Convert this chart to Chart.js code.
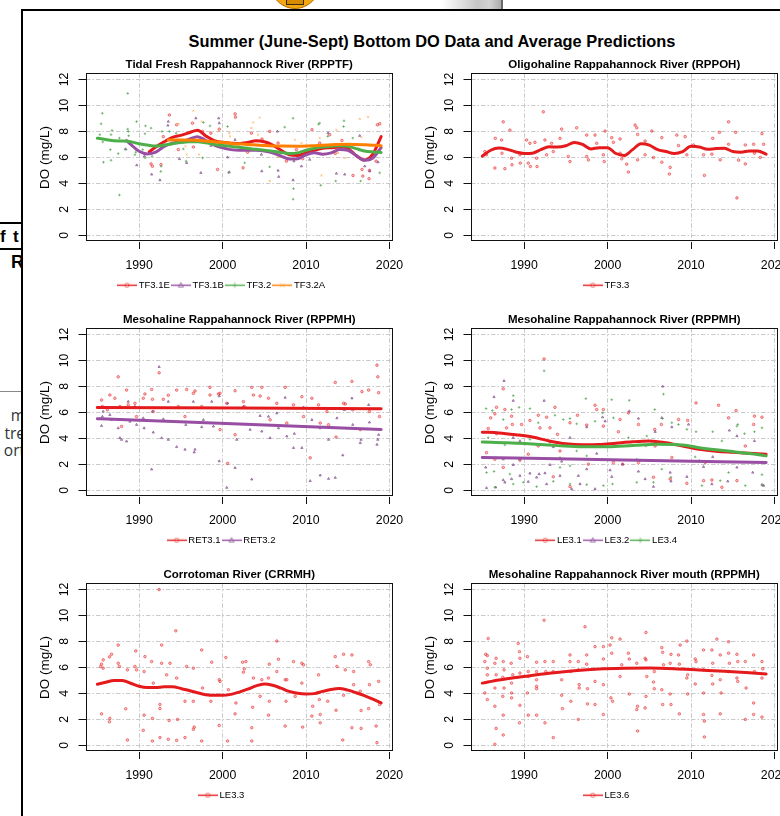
<!DOCTYPE html>
<html><head><meta charset="utf-8">
<script src="https://cdn.jsdelivr.net/npm/chart.js@4.4.1/dist/chart.umd.min.js"></script>
<style>
html,body{margin:0;padding:0;background:#fff;}
body{width:780px;height:816px;overflow:hidden;position:relative;font-family:"Liberation Sans",Arial,sans-serif;}
#frame{position:absolute;left:21px;top:9px;width:900px;height:900px;border-left:2px solid #000;border-top:2px solid #000;}
#mainTitle{position:absolute;left:0;top:31px;width:864px;text-align:center;font-weight:bold;font-size:16.4px;line-height:20px;color:#000;white-space:nowrap;}
canvas{position:absolute;}
#leftClip{position:absolute;left:0;top:0;width:21px;height:816px;overflow:hidden;}
.frag{position:absolute;white-space:nowrap;}
.doc{font-family:"Open Sans","Liberation Sans",sans-serif;font-size:15.5px;line-height:17px;color:#2f3437;right:-4px;text-align:right;}
#icon{position:absolute;left:270px;top:-41px;width:50px;height:50px;border-radius:50%;background:#F3A712;box-sizing:border-box;border:1.5px solid #b46f00;}
#iconIn{position:absolute;left:286px;top:-4px;width:18px;height:9px;background:#d98b00;border:1.5px solid #3a2a10;border-top:none;box-sizing:border-box;}
#photo{position:absolute;left:442px;top:0;width:59px;height:9px;background:linear-gradient(90deg,#fff 0%,#ddd 30%,#b8b8b8 60%,#c8c8c8 80%,#999 100%);border-right:2px solid #444;opacity:0.8;}
</style></head>
<body>
<div id="icon"></div><div id="iconIn"></div><div id="photo"></div>
<div id="leftClip">
  <div class="frag" style="left:0;top:222px;width:21px;height:1.5px;background:#000"></div>
  <div class="frag" style="left:0;top:227px;font-weight:bold;font-size:17px;line-height:19px;color:#000">f</div>
  <div class="frag" style="left:13px;top:227px;font-weight:bold;font-size:17px;line-height:19px;color:#000">t</div>
  <div class="frag" style="left:0;top:248px;width:21px;height:2px;background:#000"></div>
  <div class="frag" style="left:11px;top:252px;font-weight:bold;font-size:18px;line-height:20px;color:#000">R</div>
  <div class="frag" style="left:0;top:391px;width:21px;height:1px;background:#888"></div>
  <div class="frag doc" style="top:407px">m</div>
  <div class="frag doc" style="top:425px">tre</div>
  <div class="frag doc" style="top:442px">ort</div>
</div>
<div id="frame"></div>
<div id="mainTitle">Summer (June-Sept) Bottom DO Data and Average Predictions</div>
<canvas id="p1"></canvas><canvas id="p2"></canvas>
<canvas id="p3"></canvas><canvas id="p4"></canvas>
<canvas id="p5"></canvas><canvas id="p6"></canvas>
<script>
// ---------------- DATA ----------------
const xTickYears = [1990, 2000, 2010, 2020];
const yTickValues = [0, 2, 4, 6, 8, 10, 12];
const xRange = [1983.64, 2020.36];
const yRange = [-0.48, 12.48];
const legendCenterYear = 2000;

const panelTitles = [
  'Tidal Fresh Rappahannock River (RPPTF)',
  'Oligohaline Rappahannock River (RPPOH)',
  'Mesohaline Rappahannock River (RPPMH)',
  'Mesohaline Rappahannock River (RPPMH)',
  'Corrotoman River (CRRMH)',
  'Mesohaline Rappahannock River mouth (RPPMH)'
];

// Panel 1
const tf31eLineYears = [1991.2,1992,1993,1994,1995,1996,1997,1998,1999,2000,2001,2002,2003,2004,2005,2006,2007,2008,2009,2010,2011,2012,2013,2014,2015,2016,2017,2018,2019];
const tf31eLineDO    = [6.42,6.8,7.2,7.55,7.7,7.9,8.1,7.65,7.3,7.16,7.1,7.06,7.15,7.28,7.2,6.95,6.55,6.2,6.15,6.35,6.55,6.7,6.75,6.8,6.7,6.15,5.8,6.25,7.6];
const tf31bLineYears = [1988.5,1989,1990,1991,1992,1993,1994,1995,1996,1997,1998,1999,2000,2001,2002,2003,2004,2005,2006,2007,2008,2009,2010,2011,2012,2013,2014,2015,2016,2017,2018,2019];
const tf31bLineDO    = [7.3,7.0,6.47,6.27,6.4,6.85,7.1,7.2,7.4,7.6,7.3,6.95,6.73,6.6,6.55,6.55,6.55,6.5,6.35,6.1,5.88,5.9,6.2,6.35,6.25,6.35,6.6,6.55,6.15,5.78,5.95,6.75];
const tf32LineYears  = [1985,1986,1987,1988,1989,1990,1991,1992,1993,1994,1995,1996,1997,1998,1999,2000,2001,2002,2003,2004,2005,2006,2007,2008,2009,2010,2011,2012,2013,2014,2015,2016,2017,2018,2019];
const tf32LineDO     = [7.48,7.38,7.28,7.26,7.2,7.05,6.95,6.87,6.95,7.05,7.15,7.2,7.2,7.12,7.0,6.92,6.85,6.78,6.7,6.62,6.56,6.48,6.38,6.3,6.35,6.55,6.7,6.8,6.86,6.9,6.85,6.68,6.5,6.42,6.38];
const tf32aLineYears = [1993.5,1995,1997,1999,2001,2003,2005,2007,2009,2011,2013,2015,2017,2019];
const tf32aLineDO    = [7.35,7.35,7.32,7.2,7.08,7.0,6.92,6.87,6.86,6.9,6.97,7.02,6.98,6.9];
const tf31ePoints = [[1991.43,5.5],[1991.6,5.32],[1992.63,5.45],[1993.63,9.27],[1994.5,8.51],[1994.7,6.6],[1996.4,8.64],[1996.5,6.8],[1997.6,8.0],[1998.6,7.87],[1999.4,5.07],[1999.6,8.18],[2001.5,9.35],[2001.55,9.1],[2000.4,6.86],[2002.46,5.2],[2003.46,7.87],[2004.73,7.41],[2005.65,8.0],[2006.65,7.11],[2007.65,5.71],[2008.85,6.6],[2010.72,8.13],[2011.64,7.11],[2012.84,7.75],[2015.63,4.61],[2016.71,5.07],[2016.8,4.56],[2017.55,4.36],[2018.55,8.51],[2018.83,8.59],[2018.4,5.71],[1992.9,7.6],[1995.3,7.2],[2003.0,6.4],[2009.6,5.9],[2013.5,6.3],[2014.3,7.3],[2017.6,5.0]];
const tf31bPoints = [[1988.36,6.65],[1989.72,5.4],[1990.64,6.09],[1991.5,4.69],[1992.5,4.25],[1993.5,8.76],[1993.45,8.46],[1994.63,7.24],[1994.83,5.88],[1995.7,5.58],[1996.8,9.02],[1997.4,4.81],[1998.6,6.9],[1999.54,9.02],[1999.6,8.64],[2000.6,6.01],[2000.8,4.87],[2001.5,7.36],[2004.65,6.22],[2004.7,4.94],[2006.57,8.0],[2006.65,4.99],[2006.73,4.51],[2008.45,4.25],[2008.55,5.71],[2009.45,5.32],[2010.44,5.83],[2012.64,7.87],[2013.64,4.76],[2014.63,4.69],[2015.63,6.34],[2016.43,7.67],[2017.03,5.32],[2017.63,4.94],[2018.63,5.63]];
const tf32Points = [[1988.64,10.93],[1985.6,9.4],[1985.45,8.59],[1985.3,7.75],[1985.65,7.19],[1985.73,5.63],[1986.76,8.08],[1986.64,7.75],[1986.56,6.6],[1986.64,5.78],[1987.5,6.29],[1987.64,3.1],[1987.64,7.49],[1988.44,6.6],[1988.64,8.18],[1988.7,8.0],[1988.76,7.67],[1989.64,6.6],[1989.7,8.76],[1989.6,6.4],[1989.5,6.2],[1990.76,8.43],[1990.7,7.82],[1990.44,6.6],[1990.72,5.96],[1991.43,8.26],[1991.55,6.09],[1992.63,5.32],[1992.6,4.92],[1992.75,8.0],[1993.63,8.0],[1993.7,6.98],[1994.43,7.87],[1995.3,6.65],[1995.63,5.71],[1997.7,8.69],[1998.5,8.43],[1997.6,5.96],[2000.6,8.38],[2000.73,4.81],[1999.6,7.11],[2008.45,9.02],[2008.5,3.59],[2008.45,2.78],[2007.45,8.33],[2011.64,8.64],[2011.5,8.56],[2012.6,7.62],[2013.56,4.18],[2011.76,3.85],[2014.55,8.82],[2014.5,8.38],[2015.6,7.49],[2016.55,4.18],[2018.83,4.81],[2005.65,5.27],[2002.66,5.58],[2002.3,6.6]];
const tf32aPoints = [[1994.75,8.59],[1995.55,6.85],[1996.5,9.6],[1997.5,8.76],[1997.8,7.62],[1999.54,8.0],[2000.8,7.87],[2000.9,7.62],[1995.7,6.22],[1997.2,6.22],[2003.66,8.69],[2004.45,9.07],[2003.46,8.26],[2004.26,7.75],[2005.45,6.98],[2005.65,4.18],[2006.65,6.04],[2008.65,7.36],[2009.45,7.11],[2011.64,7.49],[2011.84,4.61],[2013.64,8.13],[2014.63,5.96],[2016.43,8.97],[2017.43,9.1],[2016.63,7.54],[2013.84,6.34]];

// Panel 2
const tf33LineYears = [1985,1986,1987,1988,1989,1990,1991,1992,1993,1994,1995,1996,1997,1998,1999,2000,2001,2002,2003,2004,2005,2006,2007,2008,2009,2010,2011,2012,2013,2014,2015,2016,2017,2018,2019];
const tf33LineDO    = [6.1,6.55,6.72,6.62,6.42,6.3,6.32,6.6,6.82,6.8,6.9,7.15,7.0,6.65,6.75,6.75,6.3,6.15,6.6,7.05,6.95,6.6,6.45,6.3,6.45,6.85,6.8,6.62,6.68,6.7,6.45,6.4,6.5,6.5,6.25];
const tf33Points = [[1992.3,9.51],[1987.5,8.74],[1988.3,8.1],[1988.5,5.94],[1988.55,5.43],[1987.7,5.13],[1986.5,5.18],[1986.55,7.47],[1985.3,6.45],[1985.5,6.2],[1987.3,7.34],[1987.35,6.32],[1989.5,6.2],[1989.55,5.56],[1990.3,7.34],[1990.7,7.09],[1990.5,5.56],[1990.75,5.3],[1991.3,7.16],[1991.5,5.94],[1991.55,5.3],[1992.5,7.34],[1992.7,6.2],[1993.3,7.09],[1993.5,6.45],[1994.3,7.47],[1994.5,8.18],[1995.3,6.07],[1995.5,5.68],[1996.3,8.28],[1997.5,7.72],[1997.5,6.07],[1997.7,5.81],[1998.5,7.72],[1998.7,7.09],[1999.7,8.03],[1999.5,6.2],[1999.6,5.68],[2000.5,7.52],[2000.7,7.16],[2001.5,7.42],[2001.5,6.32],[2001.7,5.89],[2002.3,5.48],[2002.5,4.87],[2003.3,8.49],[2003.5,8.28],[2003.6,7.77],[2003.6,5.81],[2004.5,7.26],[2004.5,6.2],[2005.3,8.03],[2005.5,5.99],[2006.5,7.52],[2006.5,5.63],[2007.4,4.72],[2007.5,5.23],[2008.3,7.72],[2008.5,6.91],[2009.3,7.6],[2009.5,6.2],[2010.3,6.96],[2011.5,6.2],[2011.6,4.61],[2012.6,7.47],[2012.5,6.25],[2013.4,7.93],[2013.5,5.81],[2014.5,8.74],[2014.5,7.01],[2015.35,7.93],[2015.5,2.88],[2015.7,5.79],[2016.5,6.96],[2016.5,5.5],[2017.5,7.01],[2017.6,6.32],[2018.5,7.83],[2018.7,7.01],[2018.3,6.0]];

// Panel 3
const ret31LineYears = [1985, 2002, 2019];
const ret31LineDO    = [6.38, 6.33, 6.28];
const ret32LineYears = [1985, 2002, 2019];
const ret32LineDO    = [5.52, 5.1, 4.68];
const ret31Points = [[1985.5,6.96],[1985.6,6.45],[1986.2,6.2],[1986.5,7.34],[1987.1,7.09],[1987.5,8.74],[1987.7,6.45],[1987.9,4.92],[1988.5,7.72],[1988.7,6.58],[1989.5,6.7],[1989.7,5.68],[1990.5,7.09],[1990.7,7.42],[1991.5,7.77],[1991.6,7.01],[1991.7,6.07],[1992.4,9.05],[1992.9,7.01],[1993.5,7.32],[1994.5,7.72],[1994.7,6.45],[1995.7,7.77],[1995.5,5.68],[1996.5,7.47],[1996.7,7.65],[1997.5,6.45],[1998.5,7.93],[1998.5,7.34],[1999.5,7.42],[1999.7,7.47],[1999.7,4.67],[2000.5,6.7],[2000.6,2.07],[2001.5,7.67],[2001.5,4.28],[2002.5,6.83],[2002.6,6.45],[2003.5,7.93],[2003.7,7.34],[2004.5,7.26],[2004.7,7.93],[2005.5,7.09],[2005.7,5.43],[2006.5,6.7],[2007.5,7.93],[2007.7,5.18],[2008.5,6.58],[2009.5,7.21],[2009.7,5.68],[2010.5,2.5],[2010.7,7.09],[2011.5,6.58],[2011.7,5.18],[2012.5,6.07],[2012.7,5.05],[2013.5,8.31],[2013.6,4.1],[2014.5,6.7],[2014.7,6.65],[2015.5,8.39],[2015.6,6.2],[2016.5,4.67],[2016.7,7.6],[2017.5,7.72],[2017.6,6.07],[2018.5,9.64],[2018.6,8.74],[2018.7,7.52],[2018.8,5.68]];
const ret32Points = [[1985.5,4.97],[1985.6,5.68],[1985.7,6.07],[1986.5,5.81],[1986.7,5.43],[1987.5,4.79],[1987.7,4.03],[1987.9,3.9],[1988.5,3.77],[1988.7,6.83],[1988.9,5.3],[1989.5,6.45],[1989.7,5.05],[1990.5,5.56],[1990.6,4.79],[1991.5,1.61],[1991.6,6.07],[1991.7,4.46],[1992.4,9.51],[1992.7,4.03],[1992.9,5.48],[1993.5,6.83],[1993.5,3.9],[1994.5,3.34],[1995.5,3.14],[1995.6,5.05],[1996.5,6.83],[1996.6,2.93],[1996.7,3.14],[1997.5,4.87],[1997.7,5.43],[1998.7,6.83],[1998.9,4.92],[1999.6,2.25],[1999.6,7.26],[2000.5,0.2],[2000.6,6.7],[2001.5,1.73],[2001.7,3.9],[2002.5,6.45],[2003.3,4.67],[2003.5,0.84],[2004.5,5.74],[2004.7,4.54],[2005.5,5.68],[2005.7,4.03],[2006.5,5.94],[2006.7,4.79],[2007.5,7.14],[2007.7,4.16],[2008.5,3.27],[2008.6,4.36],[2009.5,3.27],[2009.7,6.4],[2010.5,0.72],[2010.7,5.43],[2011.7,1.15],[2011.7,4.79],[2012.7,0.89],[2012.7,3.9],[2013.5,0.97],[2013.7,5.56],[2014.4,2.7],[2014.6,6.2],[2015.5,7.09],[2015.6,5.05],[2016.5,3.65],[2016.6,3.9],[2017.5,6.58],[2017.6,5.23],[2018.5,3.52],[2018.6,3.9],[2018.7,4.28]];

// Panel 4
const le31LineYears = [1985,1987,1989,1991,1993,1995,1997,1999,2001,2003,2005,2007,2009,2011,2013,2015,2017,2019];
const le31LineDO    = [4.48,4.42,4.28,4.1,3.8,3.58,3.5,3.52,3.63,3.74,3.8,3.66,3.4,3.15,3.0,2.92,2.85,2.78];
const le32LineYears = [1985, 2002, 2019];
const le32LineDO    = [2.52, 2.34, 2.14];
const le34LineYears = [1985,1988,1991,1994,1997,2000,2003,2006,2009,2011,2013,2015,2017,2019];
const le34LineDO    = [3.72,3.66,3.56,3.44,3.35,3.36,3.45,3.54,3.48,3.28,3.12,2.98,2.83,2.65];
const le31Points = [[1992.4,10.12],[1987.5,7.82],[1986.7,6.39],[1986.0,5.58],[1986.5,5.89],[1987.7,6.22],[1988.5,5.71],[1985.7,4.76],[1986.7,4.36],[1987.9,4.81],[1988.6,5.07],[1989.7,5.07],[1990.7,5.38],[1991.7,5.78],[1992.7,5.63],[1993.7,6.39],[1991.9,4.81],[1993.1,4.81],[1985.5,2.9],[1986.5,2.39],[1987.5,1.76],[1989.5,2.32],[1990.5,2.78],[1991.7,3.41],[1994.0,4.31],[1994.3,3.03],[1995.5,5.2],[1996.4,5.78],[1997.5,5.02],[1998.5,6.55],[1998.7,6.22],[1999.5,6.22],[1997.7,2.01],[1999.5,4.94],[2001.3,4.51],[2001.5,5.45],[2000.7,2.14],[1995.5,0.28],[1993.5,1.04],[2002.5,5.96],[2003.7,5.07],[2005.65,4.69],[2006.45,5.07],[2005.7,3.41],[2008.5,5.45],[2009.6,5.38],[2010.6,6.73],[2013.3,6.55],[2014.5,5.58],[2015.4,6.14],[2017.5,5.07],[2017.6,5.71],[2018.5,5.63],[2001.8,2.01],[2003.7,2.14],[2005.5,1.0],[2007.5,0.87],[2009.5,0.53],[2011.5,0.74],[2012.5,0.79],[2013.7,0.23],[2015.5,0.74],[2007.7,2.52],[2011.7,2.14],[2016.5,3.41]];
const le32Points = [[1987.6,8.43],[1988.7,6.9],[1986.4,7.19],[1992.4,6.9],[1991.5,0.99],[1992.7,0.48],[1987.5,0.79],[1987.7,0.61],[1985.5,0.18],[1986.6,0.23],[1988.5,0.87],[1989.5,1.12],[1990.7,1.3],[1990.5,0.66],[1991.8,1.25],[1992.5,1.32],[1985.4,1.76],[1987.5,2.39],[1988.7,1.96],[1989.5,2.39],[1993.1,1.96],[1994.3,1.12],[1994.5,2.22],[1995.7,0.1],[1996.5,1.12],[1996.7,0.48],[1997.5,1.63],[1998.5,0.1],[1998.7,2.83],[1999.4,5.63],[1999.7,5.32],[2000.3,1.55],[2000.5,1.04],[1997.5,4.87],[1995.5,4.05],[1993.5,3.34],[1989.5,3.8],[1988.7,4.05],[2006.6,8.0],[2006.5,5.58],[2002.6,6.1],[2003.7,5.53],[2005.7,4.51],[2007.7,4.87],[2009.7,5.07],[2011.0,2.27],[2012.6,2.57],[2014.6,4.61],[2015.5,4.18],[2017.6,3.8],[2018.5,2.78],[2001.8,2.0],[2003.7,1.45],[2004.5,0.87],[2005.5,0.28],[2007.5,1.37],[2007.6,0.69],[2009.5,1.04],[2011.5,1.81],[2012.5,0.48],[2014.4,0.69],[2015.5,1.76],[2017.4,1.37],[2018.5,0.43],[2018.7,0.36]];
const le34Points = [[1992.4,9.2],[1988.7,7.29],[1985.45,6.29],[1986.2,6.14],[1987.5,5.45],[1988.5,6.22],[1989.4,6.39],[1990.7,6.29],[1991.7,5.2],[1993.7,5.78],[1994.7,5.45],[1995.5,5.53],[1996.3,5.12],[1997.4,7.06],[1998.5,5.32],[1999.4,5.96],[2000.5,6.98],[2000.7,5.58],[1985.7,4.05],[1987.7,3.49],[1988.7,4.31],[1990.7,3.92],[1991.5,3.54],[1993.1,3.67],[1994.3,2.52],[1995.5,1.88],[1996.3,3.03],[1997.5,2.65],[1986.4,1.45],[1985.5,1.37],[1988.3,1.25],[1988.7,0.48],[1986.5,0.23],[1989.9,0.61],[1991.5,0.28],[1993.5,0.69],[1994.3,1.76],[1995.5,0.48],[1997.5,0.43],[1999.5,0.36],[2000.6,0.48],[2002.6,6.93],[2005.65,6.22],[2006.6,5.53],[2006.7,7.41],[2007.7,5.2],[2008.5,5.07],[2009.5,4.69],[2010.6,4.51],[2012.6,4.51],[2013.7,3.8],[2015.5,4.94],[2015.6,5.07],[2016.4,4.36],[2017.6,4.51],[2018.5,4.81],[2004.7,4.18],[2004.6,3.41],[2002.5,4.05],[2003.5,2.39],[2003.5,0.61],[2005.5,0.61],[2006.5,1.63],[2007.6,1.0],[2010.5,2.57],[2011.3,0.36],[2013.5,0.74],[2014.5,1.37],[2016.5,0.36],[2018.5,1.2],[2018.6,0.36]];

// Panel 5
const le33LineYears = [1985,1986,1987,1988,1989,1990,1991,1992,1993,1994,1995,1996,1997,1998,1999,2000,2001,2002,2003,2004,2005,2006,2007,2008,2009,2010,2011,2012,2013,2014,2015,2016,2017,2018,2019];
const le33LineDO    = [4.7,4.85,5.0,5.0,4.78,4.55,4.45,4.45,4.5,4.5,4.38,4.22,4.05,3.9,3.85,3.85,3.92,4.1,4.32,4.58,4.72,4.62,4.4,4.15,4.0,3.95,3.98,4.15,4.3,4.37,4.25,4.05,3.82,3.55,3.26];
const le33Points = [[1992.4,12.0],[1994.4,8.82],[1992.7,7.72],[1987.5,7.72],[1986.7,7.01],[1986.45,6.81],[1985.7,6.58],[1985.5,6.25],[1985.4,6.07],[1985.7,5.94],[1987.5,6.32],[1987.65,6.07],[1988.6,5.81],[1989.6,7.27],[1989.5,6.07],[1989.7,5.81],[1990.7,6.83],[1990.6,5.68],[1991.5,6.45],[1991.7,4.79],[1992.7,6.32],[1993.3,5.43],[1993.7,6.32],[1994.5,5.18],[1995.7,6.07],[1996.5,5.94],[1997.5,7.34],[1997.6,4.41],[1998.7,6.4],[1999.6,5.05],[1999.7,4.92],[2000.4,6.76],[2000.7,4.28],[2002.4,6.4],[2002.6,5.89],[2002.5,5.63],[2002.8,6.45],[2003.7,5.18],[2004.7,5.05],[2005.5,5.18],[2005.6,6.25],[2006.5,8.03],[2006.7,6.63],[2006.5,5.68],[2007.5,5.05],[2007.7,5.05],[2008.5,6.45],[2009.5,6.32],[2009.7,6.2],[2009.5,4.79],[2011.5,5.43],[2013.5,6.83],[2013.7,6.07],[2014.5,7.01],[2014.7,5.81],[2015.5,6.96],[2015.7,5.68],[2017.5,6.45],[2017.7,6.2],[2018.7,4.92],[2015.7,4.67],[2017.6,4.67],[2016.5,4.16],[1985.5,2.42],[1986.5,2.07],[1986.45,1.81],[1988.4,2.81],[1988.6,0.41],[1990.6,2.32],[1990.5,1.15],[1991.6,2.07],[1991.6,0.33],[1992.5,3.14],[1992.5,2.83],[1992.5,0.59],[1993.6,1.91],[1993.5,0.46],[1994.6,1.99],[1994.5,0.38],[1995.5,3.39],[1995.5,0.59],[1996.5,3.39],[1996.6,1.4],[1996.5,1.23],[1997.5,0.33],[1998.6,3.39],[1999.6,1.53],[2000.6,0.33],[2001.5,2.42],[2001.6,3.26],[2003.5,1.35],[2003.5,0.33],[2003.6,2.93],[2004.5,3.77],[2005.5,2.32],[2005.6,3.39],[2007.5,1.48],[2007.6,3.39],[2008.7,3.77],[2009.6,1.4],[2010.7,2.25],[2010.8,3.01],[2011.6,3.52],[2011.7,2.37],[2011.7,1.73],[2012.6,3.39],[2013.6,2.7],[2014.4,0.41],[2014.5,3.85],[2015.5,1.35],[2016.6,1.3],[2016.6,2.68],[2017.5,2.83],[2018.4,1.48],[2018.5,0.2],[2018.8,3.14]];

// Panel 6
const le36LineYears = [1985,1987,1990,1993,1996,1999,2002,2005,2008,2011,2014,2017,2019];
const le36LineDO    = [4.79,5.03,5.3,5.55,5.74,5.87,5.93,5.95,5.9,5.8,5.7,5.58,5.5];
const le36Points = [[1992.4,9.63],[1997.3,9.13],[2004.6,8.69],[2000.5,8.28],[2001.5,8.18],[1985.7,8.23],[1985.4,7.01],[1985.6,6.91],[1985.3,6.45],[1985.6,5.94],[1985.6,5.43],[1985.3,4.03],[1985.6,3.52],[1986.65,6.7],[1986.5,6.32],[1986.65,5.43],[1986.5,4.41],[1986.5,3.01],[1986.65,1.3],[1986.5,0.08],[1987.5,6.45],[1987.6,5.81],[1987.45,5.23],[1987.6,4.41],[1987.45,3.77],[1987.5,2.32],[1987.5,0.79],[1988.45,6.32],[1988.65,5.43],[1988.5,4.79],[1988.5,4.03],[1988.5,3.65],[1989.3,7.85],[1989.45,7.21],[1989.5,6.7],[1989.5,5.56],[1989.5,3.08],[1989.45,1.73],[1990.4,6.83],[1990.5,5.68],[1990.5,5.3],[1990.4,4.03],[1990.5,2.32],[1991.5,6.4],[1991.5,5.68],[1991.5,5.05],[1991.5,4.54],[1991.5,4.36],[1991.5,2.32],[1992.5,6.45],[1992.6,5.68],[1992.5,1.73],[1993.5,5.68],[1993.5,6.45],[1993.5,0.59],[1994.5,3.85],[1994.5,5.05],[1994.6,2.83],[1995.5,6.96],[1995.5,6.45],[1995.6,5.68],[1995.6,3.39],[1996.5,6.45],[1996.5,5.81],[1996.6,4.67],[1996.6,4.41],[1996.5,1.99],[1997.5,6.96],[1997.5,6.25],[1997.6,3.19],[1997.6,4.36],[1998.5,7.6],[1998.5,4.92],[1998.5,3.14],[1999.5,7.6],[1999.5,6.65],[1999.5,4.67],[1999.5,2.37],[2000.3,7.72],[2000.5,7.09],[2000.4,3.65],[2000.6,3.39],[2001.5,5.3],[2001.7,6.2],[2002.5,7.09],[2002.6,6.65],[2002.6,3.95],[2003.5,6.32],[2003.6,3.01],[2003.5,2.75],[2003.6,1.1],[2004.5,6.7],[2004.6,6.58],[2004.6,3.77],[2004.5,2.88],[2004.7,5.3],[2005.6,5.68],[2005.5,4.87],[2005.6,4.36],[2006.5,7.52],[2006.6,7.16],[2006.7,6.2],[2006.5,4.28],[2006.6,3.14],[2007.6,7.01],[2007.5,6.32],[2007.5,3.95],[2007.6,3.14],[2008.5,6.96],[2008.6,6.25],[2008.7,7.72],[2008.6,2.42],[2009.5,8.03],[2009.6,5.43],[2009.5,5.18],[2009.6,3.95],[2010.5,6.65],[2010.6,6.45],[2010.5,4.72],[2011.5,7.34],[2011.5,5.81],[2011.5,4.03],[2011.5,2.37],[2011.6,1.86],[2011.6,0.64],[2012.5,7.34],[2012.6,6.32],[2012.5,5.38],[2012.6,4.72],[2013.1,8.18],[2013.5,5.05],[2013.6,4.03],[2013.5,2.42],[2013.5,6.96],[2014.5,7.98],[2014.5,7.09],[2014.6,6.32],[2014.5,5.68],[2015.5,7.01],[2015.6,6.45],[2015.5,5.18],[2015.6,4.92],[2016.5,6.45],[2016.6,4.41],[2016.5,1.99],[2017.5,6.96],[2017.6,5.68],[2017.5,3.26],[2017.5,2.37],[2018.5,6.45],[2018.6,5.89],[2018.5,5.18],[2018.5,2.17]];

// ---------------- STYLE / LAYOUT ----------------
const FONT = '"Liberation Sans", Arial, Helvetica, sans-serif';
const COL = {
  red:    {line:'#E41A1C', pt:'rgba(232,40,42,0.55)', fill:'rgba(232,40,42,0.3)'},
  purple: {line:'#984EA3', pt:'rgba(125,70,135,0.65)', fill:'rgba(125,70,135,0.3)'},
  green:  {line:'#4DAF4A', pt:'rgba(70,160,70,0.65)', fill:'rgba(70,160,70,0.3)'},
  orange: {line:'#FF7F00', pt:'rgba(255,150,40,0.6)', fill:'rgba(255,150,40,0.3)'}
};
const SHAPE_STYLE = {circle:'circle', triangle:'triangle', plus:'cross', x:'crossRot'};
const GRID = '#c9c9c9';

const panels = [
  {id:'p1', left:24,  top:52,  width:390, padR:21.5, title:panelTitles[0], series:[
    {name:'TF3.1E', c:COL.red,    shape:'circle',   lx:tf31eLineYears, ly:tf31eLineDO, pts:tf31ePoints},
    {name:'TF3.1B', c:COL.purple, shape:'triangle', lx:tf31bLineYears, ly:tf31bLineDO, pts:tf31bPoints},
    {name:'TF3.2',  c:COL.green,  shape:'plus',     lx:tf32LineYears,  ly:tf32LineDO,  pts:tf32Points},
    {name:'TF3.2A', c:COL.orange, shape:'x',        lx:tf32aLineYears, ly:tf32aLineDO, pts:tf32aPoints}]},
  {id:'p2', left:409, top:52,  width:371, padR:2.5, title:panelTitles[1], series:[
    {name:'TF3.3', c:COL.red, shape:'circle', lx:tf33LineYears, ly:tf33LineDO, pts:tf33Points}]},
  {id:'p3', left:24,  top:307, width:390, padR:21.5, title:panelTitles[2], series:[
    {name:'RET3.1', c:COL.red,    shape:'circle',   lx:ret31LineYears, ly:ret31LineDO, pts:ret31Points},
    {name:'RET3.2', c:COL.purple, shape:'triangle', lx:ret32LineYears, ly:ret32LineDO, pts:ret32Points}]},
  {id:'p4', left:409, top:307, width:371, padR:2.5, title:panelTitles[3], series:[
    {name:'LE3.1', c:COL.red,    shape:'circle',   lx:le31LineYears, ly:le31LineDO, pts:le31Points},
    {name:'LE3.2', c:COL.purple, shape:'triangle', lx:le32LineYears, ly:le32LineDO, pts:le32Points},
    {name:'LE3.4', c:COL.green,  shape:'plus',     lx:le34LineYears, ly:le34LineDO, pts:le34Points}]},
  {id:'p5', left:24,  top:562, width:390, padR:21.5, title:panelTitles[4], series:[
    {name:'LE3.3', c:COL.red, shape:'circle', lx:le33LineYears, ly:le33LineDO, pts:le33Points}]},
  {id:'p6', left:409, top:562, width:371, padR:2.5, title:panelTitles[5], series:[
    {name:'LE3.6', c:COL.red, shape:'circle', lx:le36LineYears, ly:le36LineDO, pts:le36Points}]}
];
const PANEL_H = 248;

function markerImg(color, ptColor, shape) {
  const c = document.createElement('canvas'); c.width = 20; c.height = 9;
  const g = c.getContext('2d');
  g.strokeStyle = color; g.lineWidth = 1.4;
  g.beginPath(); g.moveTo(0, 4.5); g.lineTo(20, 4.5); g.stroke();
  g.strokeStyle = ptColor; g.lineWidth = 1;
  const cx = 10, cy = 4.5, r = 2.2;
  g.beginPath();
  if (shape === 'circle') g.arc(cx, cy, r, 0, Math.PI * 2);
  else if (shape === 'triangle') { g.moveTo(cx, cy - r * 1.25); g.lineTo(cx + r * 1.15, cy + r * 0.85); g.lineTo(cx - r * 1.15, cy + r * 0.85); g.closePath(); }
  else if (shape === 'plus') { g.moveTo(cx - r - 0.6, cy); g.lineTo(cx + r + 0.6, cy); g.moveTo(cx, cy - r - 0.6); g.lineTo(cx, cy + r + 0.6); }
  else { g.moveTo(cx - r, cy - r); g.lineTo(cx + r, cy + r); g.moveTo(cx + r, cy - r); g.lineTo(cx - r, cy + r); }
  g.stroke();
  return c;
}

const rBox = { id:'rBox', afterDraw(chart) {
  const a = chart.chartArea, g = chart.ctx;
  g.save(); g.strokeStyle = '#111'; g.lineWidth = 1;
  g.strokeRect(Math.round(a.left) + 0.5, Math.round(a.top) + 0.5, Math.round(a.right - a.left) - 1, Math.round(a.bottom - a.top) - 1);
  g.restore();
}};
const legendShift = { id:'legendShift', afterLayout(chart) {
  const lg = chart.legend; if (!lg) return;
  const cx = chart.scales.x.getPixelForValue(legendCenterYear);
  const dx = cx - (lg.left + lg.right) / 2;
  lg.left += dx; lg.right += dx;
}};

const gridCommon = { color: GRID, lineWidth: 1, tickLength: 7.5, tickColor: '#111', tickWidth: 1, tickBorderDash: [] };
const borderCommon = { display: false, dash: [4.5, 2, 1.5, 2] };

panels.forEach(p => {
  const cv = document.getElementById(p.id);
  cv.width = p.width; cv.height = PANEL_H;
  cv.style.left = p.left + 'px'; cv.style.top = p.top + 'px';
  cv.style.width = p.width + 'px'; cv.style.height = PANEL_H + 'px';
  const n = p.series.length;
  const datasets = [];
  p.series.forEach((s, i) => {
    datasets.push({
      label: s.name, isLine: true,
      data: s.lx.map((x, k) => ({x, y: s.ly[k]})),
      showLine: true, borderColor: s.c.line, backgroundColor: s.c.line, borderWidth: 3,
      pointRadius: 0, pointHoverRadius: 0, cubicInterpolationMode: 'monotone', tension: 0.4,
      borderCapStyle: 'round', borderJoinStyle: 'round',
      order: n - 1 - i
    });
  });
  p.series.forEach((s, i) => {
    datasets.push({
      label: s.name + ' obs', isLine: false,
      data: s.pts.map(q => ({x: q[0], y: q[1]})),
      showLine: false, pointStyle: SHAPE_STYLE[s.shape], pointRadius: 1.3, pointHoverRadius: 0,
      pointBorderWidth: 1, pointBorderColor: s.c.pt, pointBackgroundColor: s.c.fill,
      order: 20 + (n - 1 - i)
    });
  });
  new Chart(cv, {
    type: 'scatter',
    data: { datasets },
    plugins: [rBox, legendShift],
    options: {
      responsive: false, animation: false, events: [], devicePixelRatio: 1,
      layout: { padding: { left: 0, right: p.padR, top: 0, bottom: 0 } },
      plugins: {
        title: { display: true, text: p.title, fullSize: false, color: '#000',
                 font: { family: FONT, size: 11.5, weight: 'bold', lineHeight: 1.2 },
                 padding: { top: 6.1, bottom: 1.4 } },
        legend: { display: true, position: 'bottom', fullSize: false,
          labels: {
            font: { family: FONT, size: 9.5 }, color: '#000', padding: 4,
            usePointStyle: true, pointStyleWidth: 14,
            generateLabels: () => p.series.map((s, i) => ({
              text: s.name, pointStyle: markerImg(s.c.line, s.c.pt, s.shape),
              fillStyle: 'transparent', strokeStyle: 'transparent', lineWidth: 0,
              fontColor: '#000', hidden: false, datasetIndex: i
            }))
          } },
        tooltip: { enabled: false }
      },
      scales: {
        x: { type: 'linear', min: xRange[0], max: xRange[1],
          afterBuildTicks: s => { s.ticks = xTickYears.map(v => ({value: v})); },
          afterFit: s => { s.height = 35; s.paddingLeft = 0; s.paddingRight = 0; },
          ticks: { autoSkip: false, minRotation: 0, maxRotation: 0, padding: 8.8, color: '#000',
                   font: { family: FONT, size: 12.3 }, callback: v => String(v) },
          grid: gridCommon, border: borderCommon },
        y: { type: 'linear', min: yRange[0], max: yRange[1],
          afterBuildTicks: s => { s.ticks = yTickValues.map(v => ({value: v})); },
          afterFit: s => { s.width = 62; s.paddingTop = 0; s.paddingBottom = 0; },
          ticks: { minRotation: 90, maxRotation: 90, crossAlign: 'center', padding: 7.35, color: '#000',
                   font: { family: FONT, size: 12.3 }, callback: v => String(v) },
          grid: gridCommon, border: borderCommon,
          title: { display: true, text: 'DO (mg/L)', color: '#000', font: { family: FONT, size: 13.5 },
                   padding: { top: 13, bottom: 0 } } }
      }
    }
  });
});
</script>
</body></html>
